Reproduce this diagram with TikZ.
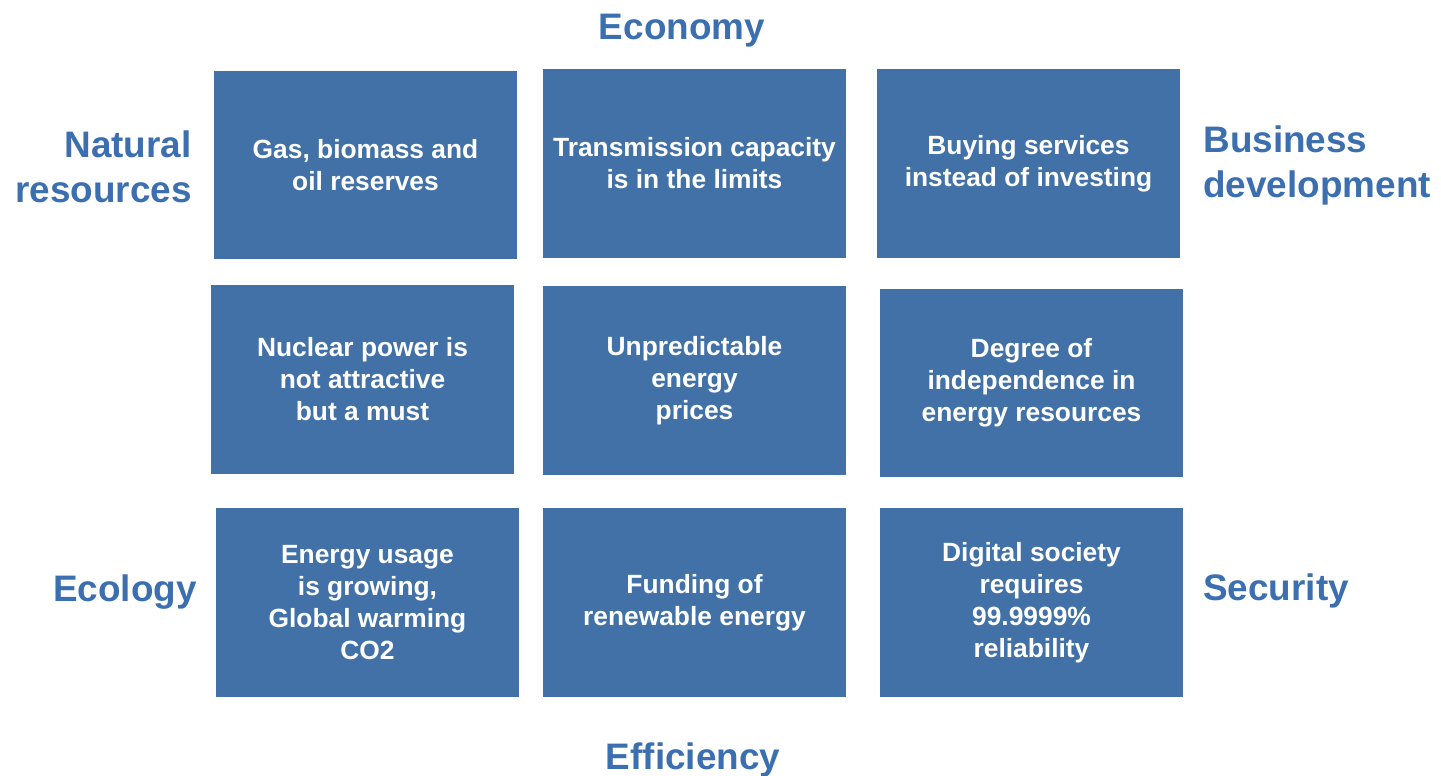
\documentclass[tikz,border=0pt]{standalone}
\usepackage{fontspec}
\setmainfont{Liberation Sans}
\definecolor{boxblue}{RGB}{65,113,167}
\definecolor{labelblue}{RGB}{60,111,176}

\begin{document}
\begin{tikzpicture}[
    x=0.02cm,
    y=-0.02cm,
    every node/.style = {
      inner sep=0pt,
      align=center
    },
    issue/.style = {
      shape=rectangle,
      fill=boxblue,
      text=white,
      minimum width=6.06cm,
      minimum height=3.78cm,
      font=\fontsize{15}{18.2}\selectfont\bfseries
    },
    aspect/.style = {
      text=labelblue,
      font=\fontsize{21}{25.5}\selectfont\bfseries
    }
    ]

    \useasboundingbox (0,0) rectangle (1441,775);

    % issues
    \node[issue] (gas)      at (365.5,165)   {Gas, biomass and\\oil reserves};
    \node[issue] (transm)   at (694.5,163.5) {Transmission capacity\\is in the limits};
    \node[issue] (buying)   at (1028.5,163.5){Buying services\\instead of investing};
    \node[issue] (nuclear)  at (362.5,379.5) {Nuclear power is\\not attractive\\ but a must};
    \node[issue] (prices)   at (694.5,380.5) {Unpredictable\\energy\\prices};
    \node[issue] (independ) at (1031.5,383)  {Degree of\\independence in\\energy resources};
    \node[issue] (usage)    at (367.5,602.5) {Energy usage\\is growing,\\Global warming\\CO2};
    \node[issue] (funding)  at (694.5,602.5) {Funding of\\renewable energy};
    \node[issue] (digital)  at (1031.5,602.5){Digital society\\requires\\99.9999\%\\ reliability};

    % aspects
    \node[aspect] (economy)    at (682,31)  {Economy};
    \node[aspect] (efficiency) at (693,760) {Efficiency};
    \node[aspect, anchor=east, align=right] (natural)  at (192,167)   {Natural\\resources};
    \node[aspect, anchor=west, align=left]  (business) at (1203,165.5){Business\\development};
    \node[aspect, anchor=east] (ecology)  at (197,592)  {Ecology};
    \node[aspect, anchor=west] (security) at (1203,591) {Security};

\end{tikzpicture}
\end{document}
